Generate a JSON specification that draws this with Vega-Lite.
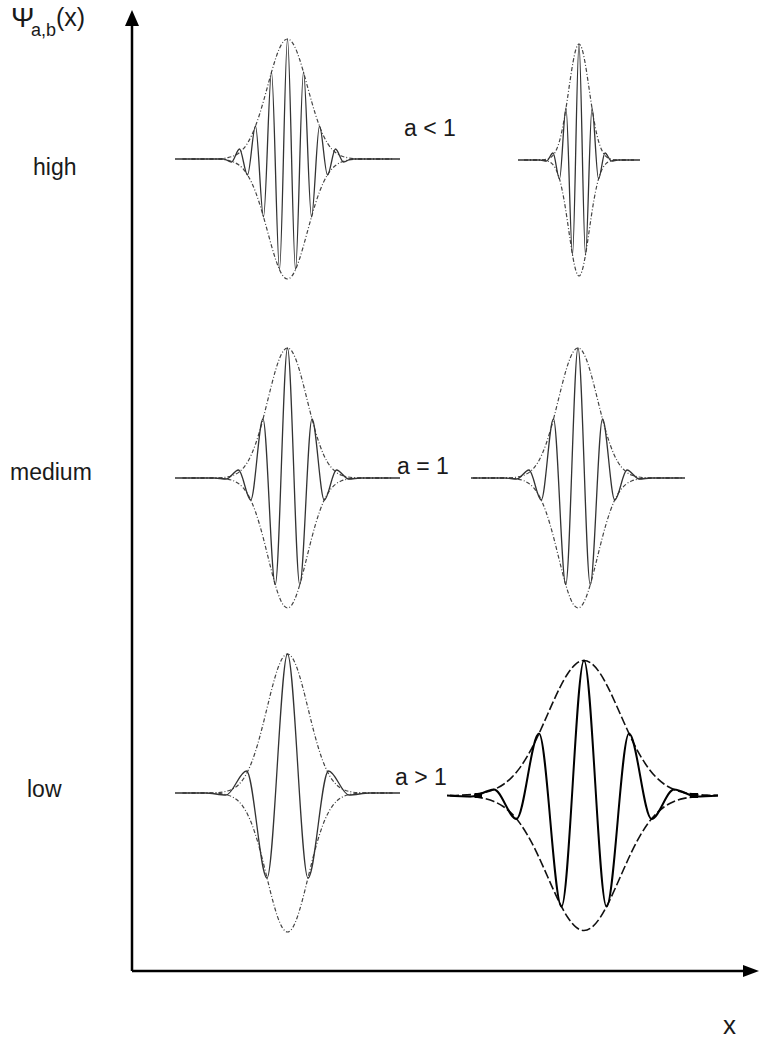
{
  "$schema": "https://vega.github.io/schema/vega-lite/v6.json",
  "width": 759,
  "height": 1040,
  "autosize": {"type": "fit", "contains": "padding"},
  "padding": 0,
  "background": "white",
  "config": {"view": {"stroke": null}},
  "datasets": {
    "wave": [
      {"w":1,"x":175,"y":881},{"w":1,"x":223.5,"y":881},{"w":1,"x":231.5,"y":878},{"w":1,"x":239.5,"y":891},{"w":1,"x":247.5,"y":865},{"w":1,"x":255.5,"y":914},{"w":1,"x":263.5,"y":823},{"w":1,"x":271.5,"y":968},{"w":1,"x":279.5,"y":770.5},{"w":1,"x":287.5,"y":1001},{"w":1,"x":295.5,"y":770.5},{"w":1,"x":303.5,"y":968},{"w":1,"x":311.5,"y":823},{"w":1,"x":319.5,"y":914},{"w":1,"x":327.5,"y":865},{"w":1,"x":335.5,"y":891},{"w":1,"x":343.5,"y":878},{"w":1,"x":351.5,"y":881},{"w":1,"x":400,"y":881},
      {"w":2,"x":518,"y":880},{"w":2,"x":540,"y":880},{"w":2,"x":546.5,"y":879},{"w":2,"x":553,"y":887},{"w":2,"x":559.5,"y":861},{"w":2,"x":566,"y":932},{"w":2,"x":572.5,"y":785},{"w":2,"x":579,"y":996},{"w":2,"x":585.5,"y":785},{"w":2,"x":592,"y":932},{"w":2,"x":598.5,"y":861},{"w":2,"x":605,"y":887},{"w":2,"x":611.5,"y":879},{"w":2,"x":618,"y":880},{"w":2,"x":640,"y":880},
      {"w":3,"x":175,"y":562},{"w":3,"x":214,"y":562},{"w":3,"x":226.25,"y":561},{"w":3,"x":238.5,"y":570},{"w":3,"x":250.75,"y":540},{"w":3,"x":263,"y":621},{"w":3,"x":275.25,"y":455.3},{"w":3,"x":287.5,"y":692},{"w":3,"x":299.75,"y":455.3},{"w":3,"x":312,"y":621},{"w":3,"x":324.25,"y":540},{"w":3,"x":336.5,"y":570},{"w":3,"x":348.75,"y":561},{"w":3,"x":361,"y":562},{"w":3,"x":400,"y":562},
      {"w":4,"x":471,"y":562},{"w":4,"x":504.5,"y":562},{"w":4,"x":516.75,"y":561},{"w":4,"x":529,"y":570},{"w":4,"x":541.25,"y":540},{"w":4,"x":553.5,"y":621},{"w":4,"x":565.75,"y":455.3},{"w":4,"x":578,"y":692},{"w":4,"x":590.25,"y":455.3},{"w":4,"x":602.5,"y":621},{"w":4,"x":614.75,"y":540},{"w":4,"x":627,"y":570},{"w":4,"x":639.25,"y":561},{"w":4,"x":651.5,"y":562},{"w":4,"x":685,"y":562},
      {"w":5,"x":175,"y":247},{"w":5,"x":205.5,"y":247},{"w":5,"x":226,"y":245},{"w":5,"x":246.5,"y":269},{"w":5,"x":267,"y":162},{"w":5,"x":287.5,"y":386},{"w":5,"x":308,"y":162},{"w":5,"x":328.5,"y":269},{"w":5,"x":349,"y":245},{"w":5,"x":369.5,"y":247},{"w":5,"x":400,"y":247},
      {"w":6,"x":447,"y":244.5},{"w":6,"x":471.5,"y":243.5},{"w":6,"x":494,"y":250.5},{"w":6,"x":516.5,"y":221},{"w":6,"x":539,"y":306.5},{"w":6,"x":561.5,"y":133.4},{"w":6,"x":584,"y":379.5},{"w":6,"x":606.5,"y":133.4},{"w":6,"x":629,"y":306.5},{"w":6,"x":651.5,"y":221},{"w":6,"x":674,"y":250.5},{"w":6,"x":696.5,"y":243.5},{"w":6,"x":718,"y":244.5}
    ],
    "env": [
      {"w":1,"x":182.5,"up":881,"lo":881},{"w":1,"x":217.5,"up":881.2,"lo":880.8},{"w":1,"x":227.5,"up":882.3,"lo":879.7},{"w":1,"x":233.5,"up":884,"lo":878},{"w":1,"x":239.5,"up":887.5,"lo":874.5},{"w":1,"x":243.5,"up":891.3,"lo":870.7},{"w":1,"x":247.5,"up":896.8,"lo":865.2},{"w":1,"x":251.5,"up":904.3,"lo":857.7},{"w":1,"x":255.5,"up":913.8,"lo":848.2},{"w":1,"x":259.5,"up":925.5,"lo":836.5},{"w":1,"x":263.5,"up":938.9,"lo":823.1},{"w":1,"x":267.5,"up":953.3,"lo":808.7},{"w":1,"x":271.5,"up":967.8,"lo":794.2},{"w":1,"x":275.5,"up":981,"lo":781},{"w":1,"x":279.5,"up":991.7,"lo":770.3},{"w":1,"x":283.5,"up":998.6,"lo":763.4},{"w":1,"x":287.5,"up":1001,"lo":761},{"w":1,"x":291.5,"up":998.6,"lo":763.4},{"w":1,"x":295.5,"up":991.7,"lo":770.3},{"w":1,"x":299.5,"up":981,"lo":781},{"w":1,"x":303.5,"up":967.8,"lo":794.2},{"w":1,"x":307.5,"up":953.3,"lo":808.7},{"w":1,"x":311.5,"up":938.9,"lo":823.1},{"w":1,"x":315.5,"up":925.5,"lo":836.5},{"w":1,"x":319.5,"up":913.8,"lo":848.2},{"w":1,"x":323.5,"up":904.3,"lo":857.7},{"w":1,"x":327.5,"up":896.8,"lo":865.2},{"w":1,"x":331.5,"up":891.3,"lo":870.7},{"w":1,"x":335.5,"up":887.5,"lo":874.5},{"w":1,"x":341.5,"up":884,"lo":878},{"w":1,"x":347.5,"up":882.3,"lo":879.7},{"w":1,"x":357.5,"up":881.2,"lo":880.8},{"w":1,"x":392.5,"up":881,"lo":881},
      {"w":2,"x":524,"up":880,"lo":880},{"w":2,"x":543,"up":880.2,"lo":879.8},{"w":2,"x":548,"up":881.2,"lo":878.8},{"w":2,"x":552,"up":883.6,"lo":876.4},{"w":2,"x":555,"up":887.5,"lo":872.5},{"w":2,"x":558,"up":894.2,"lo":865.8},{"w":2,"x":561,"up":904.8,"lo":855.2},{"w":2,"x":564,"up":919.7,"lo":840.3},{"w":2,"x":567,"up":938.4,"lo":821.6},{"w":2,"x":570,"up":958.9,"lo":801.1},{"w":2,"x":573,"up":977.7,"lo":782.3},{"w":2,"x":576,"up":991.1,"lo":768.9},{"w":2,"x":579,"up":996,"lo":764},{"w":2,"x":582,"up":991.1,"lo":768.9},{"w":2,"x":585,"up":977.7,"lo":782.3},{"w":2,"x":588,"up":958.9,"lo":801.1},{"w":2,"x":591,"up":938.4,"lo":821.6},{"w":2,"x":594,"up":919.7,"lo":840.3},{"w":2,"x":597,"up":904.8,"lo":855.2},{"w":2,"x":600,"up":894.2,"lo":865.8},{"w":2,"x":603,"up":887.5,"lo":872.5},{"w":2,"x":606,"up":883.6,"lo":876.4},{"w":2,"x":610,"up":881.2,"lo":878.8},{"w":2,"x":615,"up":880.2,"lo":879.8},{"w":2,"x":634,"up":880,"lo":880},
      {"w":3,"x":182.5,"up":562,"lo":562},{"w":3,"x":217.5,"up":562.2,"lo":561.8},{"w":3,"x":227.5,"up":563.1,"lo":560.9},{"w":3,"x":233.5,"up":564.8,"lo":559.2},{"w":3,"x":239.5,"up":568.3,"lo":555.7},{"w":3,"x":243.5,"up":572.2,"lo":551.8},{"w":3,"x":247.5,"up":577.8,"lo":546.2},{"w":3,"x":251.5,"up":585.6,"lo":538.4},{"w":3,"x":255.5,"up":595.8,"lo":528.2},{"w":3,"x":259.5,"up":608.3,"lo":515.7},{"w":3,"x":263.5,"up":622.9,"lo":501.1},{"w":3,"x":267.5,"up":638.8,"lo":485.2},{"w":3,"x":271.5,"up":654.8,"lo":469.2},{"w":3,"x":275.5,"up":669.6,"lo":454.4},{"w":3,"x":279.5,"up":681.5,"lo":442.5},{"w":3,"x":283.5,"up":689.3,"lo":434.7},{"w":3,"x":287.5,"up":692,"lo":432},{"w":3,"x":291.5,"up":689.3,"lo":434.7},{"w":3,"x":295.5,"up":681.5,"lo":442.5},{"w":3,"x":299.5,"up":669.6,"lo":454.4},{"w":3,"x":303.5,"up":654.8,"lo":469.2},{"w":3,"x":307.5,"up":638.8,"lo":485.2},{"w":3,"x":311.5,"up":622.9,"lo":501.1},{"w":3,"x":315.5,"up":608.3,"lo":515.7},{"w":3,"x":319.5,"up":595.8,"lo":528.2},{"w":3,"x":323.5,"up":585.6,"lo":538.4},{"w":3,"x":327.5,"up":577.8,"lo":546.2},{"w":3,"x":331.5,"up":572.2,"lo":551.8},{"w":3,"x":335.5,"up":568.3,"lo":555.7},{"w":3,"x":341.5,"up":564.8,"lo":559.2},{"w":3,"x":347.5,"up":563.1,"lo":560.9},{"w":3,"x":357.5,"up":562.2,"lo":561.8},{"w":3,"x":392.5,"up":562,"lo":562},
      {"w":4,"x":473,"up":562,"lo":562},{"w":4,"x":508,"up":562.2,"lo":561.8},{"w":4,"x":518,"up":563.1,"lo":560.9},{"w":4,"x":524,"up":564.8,"lo":559.2},{"w":4,"x":530,"up":568.3,"lo":555.7},{"w":4,"x":534,"up":572.2,"lo":551.8},{"w":4,"x":538,"up":577.8,"lo":546.2},{"w":4,"x":542,"up":585.6,"lo":538.4},{"w":4,"x":546,"up":595.8,"lo":528.2},{"w":4,"x":550,"up":608.3,"lo":515.7},{"w":4,"x":554,"up":622.9,"lo":501.1},{"w":4,"x":558,"up":638.8,"lo":485.2},{"w":4,"x":562,"up":654.8,"lo":469.2},{"w":4,"x":566,"up":669.6,"lo":454.4},{"w":4,"x":570,"up":681.5,"lo":442.5},{"w":4,"x":574,"up":689.3,"lo":434.7},{"w":4,"x":578,"up":692,"lo":432},{"w":4,"x":582,"up":689.3,"lo":434.7},{"w":4,"x":586,"up":681.5,"lo":442.5},{"w":4,"x":590,"up":669.6,"lo":454.4},{"w":4,"x":594,"up":654.8,"lo":469.2},{"w":4,"x":598,"up":638.8,"lo":485.2},{"w":4,"x":602,"up":622.9,"lo":501.1},{"w":4,"x":606,"up":608.3,"lo":515.7},{"w":4,"x":610,"up":595.8,"lo":528.2},{"w":4,"x":614,"up":585.6,"lo":538.4},{"w":4,"x":618,"up":577.8,"lo":546.2},{"w":4,"x":622,"up":572.2,"lo":551.8},{"w":4,"x":626,"up":568.3,"lo":555.7},{"w":4,"x":632,"up":564.8,"lo":559.2},{"w":4,"x":638,"up":563.1,"lo":560.9},{"w":4,"x":648,"up":562.2,"lo":561.8},{"w":4,"x":683,"up":562,"lo":562},
      {"w":5,"x":182.5,"up":247,"lo":247},{"w":5,"x":215.5,"up":247.3,"lo":246.7},{"w":5,"x":225.5,"up":248.5,"lo":245.5},{"w":5,"x":231.5,"up":250.5,"lo":243.5},{"w":5,"x":237.5,"up":254.3,"lo":239.7},{"w":5,"x":242.5,"up":259.8,"lo":234.2},{"w":5,"x":247.5,"up":268.2,"lo":225.8},{"w":5,"x":252.5,"up":279.9,"lo":214.1},{"w":5,"x":257.5,"up":295.2,"lo":198.8},{"w":5,"x":262.5,"up":313.6,"lo":180.4},{"w":5,"x":267.5,"up":333.8,"lo":160.2},{"w":5,"x":272.5,"up":353.7,"lo":140.3},{"w":5,"x":277.5,"up":370.6,"lo":123.4},{"w":5,"x":282.5,"up":382,"lo":112},{"w":5,"x":287.5,"up":386,"lo":108},{"w":5,"x":292.5,"up":382,"lo":112},{"w":5,"x":297.5,"up":370.6,"lo":123.4},{"w":5,"x":302.5,"up":353.7,"lo":140.3},{"w":5,"x":307.5,"up":333.8,"lo":160.2},{"w":5,"x":312.5,"up":313.6,"lo":180.4},{"w":5,"x":317.5,"up":295.2,"lo":198.8},{"w":5,"x":322.5,"up":279.9,"lo":214.1},{"w":5,"x":327.5,"up":268.2,"lo":225.8},{"w":5,"x":332.5,"up":259.8,"lo":234.2},{"w":5,"x":337.5,"up":254.3,"lo":239.7},{"w":5,"x":343.5,"up":250.5,"lo":243.5},{"w":5,"x":349.5,"up":248.5,"lo":245.5},{"w":5,"x":359.5,"up":247.3,"lo":246.7},{"w":5,"x":392.5,"up":247,"lo":247},
      {"w":6,"x":450,"up":244.5,"lo":244.5},{"w":6,"x":459,"up":244.8,"lo":244.2},{"w":6,"x":472,"up":245.6,"lo":243.4},{"w":6,"x":484,"up":247.4,"lo":241.6},{"w":6,"x":494,"up":250.5,"lo":238.5},{"w":6,"x":504,"up":256,"lo":233},{"w":6,"x":512,"up":262.9,"lo":226.1},{"w":6,"x":520,"up":272.4,"lo":216.6},{"w":6,"x":528,"up":284.9,"lo":204.1},{"w":6,"x":536,"up":300.1,"lo":188.9},{"w":6,"x":544,"up":317.5,"lo":171.5},{"w":6,"x":552,"up":335.6,"lo":153.4},{"w":6,"x":560,"up":352.7,"lo":136.3},{"w":6,"x":568,"up":366.8,"lo":122.2},{"w":6,"x":576,"up":376.2,"lo":112.8},{"w":6,"x":584,"up":379.5,"lo":109.5},{"w":6,"x":592,"up":376.2,"lo":112.8},{"w":6,"x":600,"up":366.8,"lo":122.2},{"w":6,"x":608,"up":352.7,"lo":136.3},{"w":6,"x":616,"up":335.6,"lo":153.4},{"w":6,"x":624,"up":317.5,"lo":171.5},{"w":6,"x":632,"up":300.1,"lo":188.9},{"w":6,"x":640,"up":284.9,"lo":204.1},{"w":6,"x":648,"up":272.4,"lo":216.6},{"w":6,"x":656,"up":262.9,"lo":226.1},{"w":6,"x":664,"up":256,"lo":233},{"w":6,"x":674,"up":250.5,"lo":238.5},{"w":6,"x":684,"up":247.4,"lo":241.6},{"w":6,"x":696,"up":245.6,"lo":243.4},{"w":6,"x":709,"up":244.8,"lo":244.2},{"w":6,"x":718,"up":244.5,"lo":244.5}
    ],
    "blobs": [
      {"x":475,"x2":482,"y":244.5},
      {"x":690,"x2":698,"y":244.5}
    ],
    "axes": [
      {"x":132,"y":69,"x2":132,"y2":1016},
      {"x":132,"y":69,"x2":745,"y2":69}
    ],
    "heads": [
      {"x":132,"y":1022,"dir":"up"},
      {"x":751,"y":69,"dir":"right"}
    ],
    "texts": [
      {"t":"Ψ","k":"psi","x":11,"y":1013},
      {"t":"a,b","k":"sub","x":31,"y":1004},
      {"t":"(x)","k":"par","x":56,"y":1014},
      {"t":"high","k":"lab","x":33,"y":865},
      {"t":"medium","k":"lab","x":10,"y":560},
      {"t":"low","k":"lab","x":27,"y":243},
      {"t":"a < 1","k":"lab","x":404,"y":904},
      {"t":"a = 1","k":"lab","x":397,"y":566},
      {"t":"a > 1","k":"lab","x":395,"y":255},
      {"t":"x","k":"xl","x":723,"y":6}
    ]
  },
  "encoding": {
    "x": {"field": "x", "type": "quantitative", "scale": {"domain": [0, 759], "nice": false, "zero": false}, "axis": null},
    "y": {"field": "y", "type": "quantitative", "scale": {"domain": [0, 1040], "nice": false, "zero": false}, "axis": null}
  },
  "layer": [
    {
      "data": {"name": "env"},
      "transform": [{"filter": "datum.w != 6"}, {"fold": ["up", "lo"], "as": ["side", "yy"]}],
      "mark": {"type": "line", "interpolate": "monotone", "stroke": "#444444", "strokeWidth": 1.2, "strokeDash": [4, 2, 1, 2]},
      "encoding": {
        "y": {"field": "yy", "type": "quantitative"},
        "detail": [{"field": "w", "type": "nominal"}, {"field": "side", "type": "nominal"}]
      }
    },
    {
      "data": {"name": "env"},
      "transform": [{"filter": "datum.w == 6"}, {"fold": ["up", "lo"], "as": ["side", "yy"]}],
      "mark": {"type": "line", "interpolate": "monotone", "stroke": "#111111", "strokeWidth": 1.6, "strokeDash": [9, 3]},
      "encoding": {
        "y": {"field": "yy", "type": "quantitative"},
        "detail": {"field": "side", "type": "nominal"}
      }
    },
    {
      "data": {"name": "wave"},
      "transform": [{"filter": "datum.w != 6"}],
      "mark": {"type": "line", "interpolate": "monotone", "stroke": "#333333", "strokeWidth": 1.3},
      "encoding": {"detail": {"field": "w", "type": "nominal"}}
    },
    {
      "data": {"name": "wave"},
      "transform": [{"filter": "datum.w == 6"}],
      "mark": {"type": "line", "interpolate": "monotone", "stroke": "#000000", "strokeWidth": 2}
    },
    {
      "data": {"name": "blobs"},
      "mark": {"type": "rule", "stroke": "#000000", "strokeWidth": 5},
      "encoding": {"x2": {"field": "x2"}}
    },
    {
      "data": {"name": "axes"},
      "mark": {"type": "rule", "stroke": "#000000", "strokeWidth": 2.5},
      "encoding": {"x2": {"field": "x2"}, "y2": {"field": "y2"}}
    },
    {
      "data": {"name": "heads"},
      "mark": {"type": "point", "filled": true, "fill": "#000000", "stroke": null, "opacity": 1, "size": 256},
      "encoding": {
        "shape": {"field": "dir", "type": "nominal", "scale": {"domain": ["up", "right"], "range": ["M0,-1L0.875,1L-0.875,1Z", "M1,0L-1,0.75L-1,-0.75Z"]}, "legend": null}
      }
    },
    {
      "data": {"name": "texts"},
      "transform": [{"filter": "datum.k == 'lab'"}],
      "mark": {"type": "text", "align": "left", "baseline": "alphabetic", "font": "Liberation Sans, Arial, sans-serif", "fontSize": 23, "fill": "#1a1a1a"},
      "encoding": {"text": {"field": "t"}}
    },
    {
      "data": {"name": "texts"},
      "transform": [{"filter": "datum.k == 'psi'"}],
      "mark": {"type": "text", "align": "left", "baseline": "alphabetic", "font": "Liberation Sans, Arial, sans-serif", "fontSize": 28, "fill": "#1a1a1a"},
      "encoding": {"text": {"field": "t"}}
    },
    {
      "data": {"name": "texts"},
      "transform": [{"filter": "datum.k == 'sub'"}],
      "mark": {"type": "text", "align": "left", "baseline": "alphabetic", "font": "Liberation Sans, Arial, sans-serif", "fontSize": 18, "fill": "#1a1a1a"},
      "encoding": {"text": {"field": "t"}}
    },
    {
      "data": {"name": "texts"},
      "transform": [{"filter": "datum.k == 'par'"}],
      "mark": {"type": "text", "align": "left", "baseline": "alphabetic", "font": "Liberation Sans, Arial, sans-serif", "fontSize": 25, "fill": "#1a1a1a"},
      "encoding": {"text": {"field": "t"}}
    },
    {
      "data": {"name": "texts"},
      "transform": [{"filter": "datum.k == 'xl'"}],
      "mark": {"type": "text", "align": "left", "baseline": "alphabetic", "font": "Liberation Sans, Arial, sans-serif", "fontSize": 26, "fill": "#1a1a1a"},
      "encoding": {"text": {"field": "t"}}
    }
  ]
}
